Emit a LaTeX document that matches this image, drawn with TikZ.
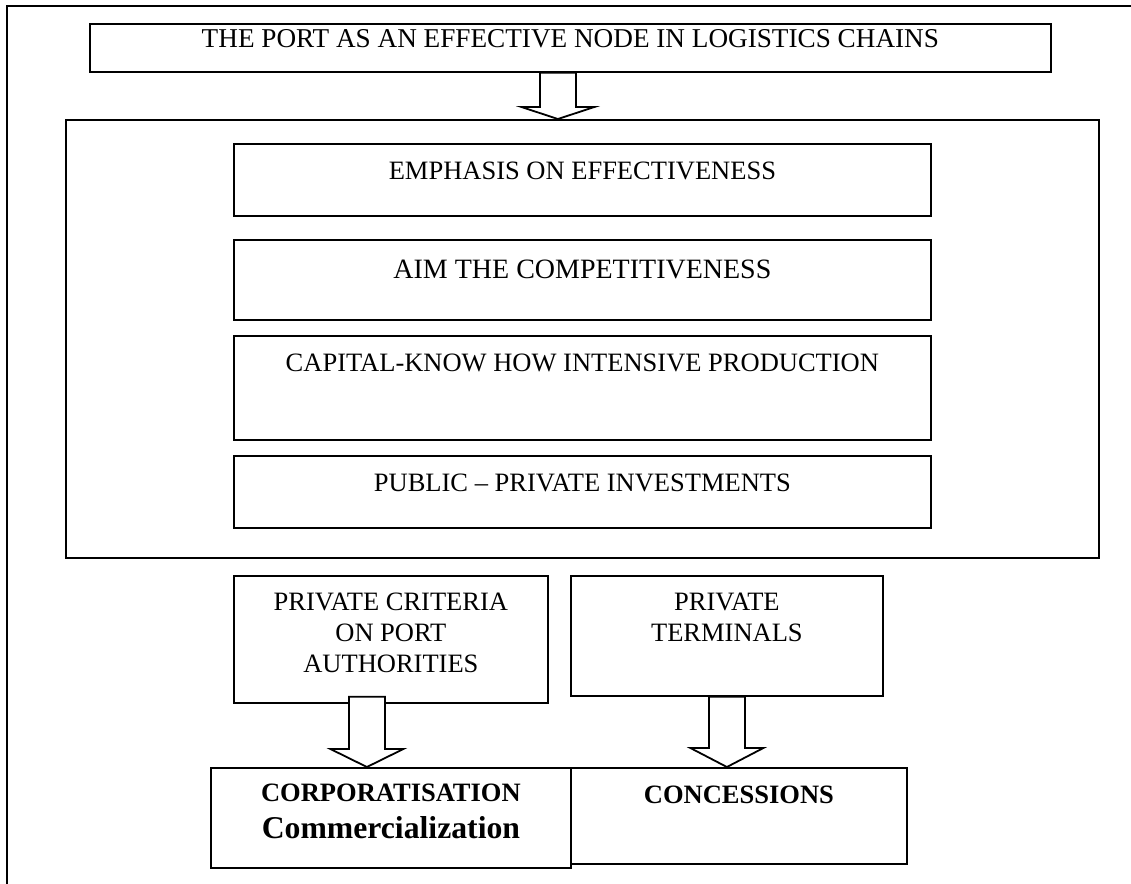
\documentclass[tikz,border=0pt]{standalone}
\usepackage{fontspec}
\setmainfont{Liberation Serif}
\usetikzlibrary{calc}

\newcommand{\blockarr}[3]{%
  \draw[fill=white, line join=miter]
    ($(#1)+(-18,0)$) -- ($(#2)+(-18,-#3)$) -- ($(#2)+(-36.5,-#3)$) -- (#2)
    -- ($(#2)+(36.5,-#3)$) -- ($(#2)+(18,-#3)$) -- ($(#1)+(18,0)$) -- cycle;}

\begin{document}
\begin{tikzpicture}[x=0.5pt, y=-0.5pt, line width=0.9pt,
  box/.style={draw, rectangle, inner sep=0pt, anchor=north west, align=center},
  lbl/.style={font=\fontsize{13.25}{15.5}\selectfont}
]
\useasboundingbox (0,0) rectangle (1131,884);

\draw (1131,6) -- (7,6) -- (7,884);

\node[box, font=\fontsize{13.6}{15.5}\selectfont, minimum width=480.5pt, text height=12pt, text depth=12pt] (port) at (89,23)
  {THE PORT AS AN EFFECTIVE NODE IN LOGISTICS CHAINS};

\node[box, minimum width=516.5pt, minimum height=219pt] (frame) at (65,119) {};

\node[box, lbl, minimum width=348.5pt, text height=18pt, text depth=18pt] (emph) at (233,143)
  {EMPHASIS ON EFFECTIVENESS};
\node[box, font=\fontsize{14}{16}\selectfont, minimum width=348.5pt, text height=19.5pt, text depth=20.5pt] (aim) at (233,239)
  {AIM THE COMPETITIVENESS};
\node[box, lbl, minimum width=348.5pt, text height=18pt, text depth=34pt] (capital) at (233,335)
  {CAPITAL-KNOW HOW INTENSIVE PRODUCTION};
\node[box, lbl, minimum width=348.5pt, text height=18pt, text depth=18pt] (invest) at (233,455)
  {PUBLIC -- PRIVATE INVESTMENTS};

\node[box, lbl, minimum width=157pt, text height=48.5pt, text depth=15pt] (criteria) at (233,575)
  {PRIVATE CRITERIA\\ON PORT\\AUTHORITIES};
\node[box, lbl, minimum width=156pt, text height=33pt, text depth=27pt] (terminals) at (570,575)
  {PRIVATE\\TERMINALS};

\node[box, font=\fontsize{13.25}{17.5}\selectfont\bfseries, minimum width=168pt, text height=18pt, text depth=30pt] (conc) at (570,767)
  {CONCESSIONS};
\node[box, font=\fontsize{13.25}{17.5}\selectfont\bfseries, minimum width=180pt, text height=35.5pt, text depth=14.5pt] (corp) at (210,767)
  {CORPORATISATION\\[1pt]{\fontsize{15.85}{17.5}\selectfont Commercialization}};

\coordinate (a0) at ([xshift=-6.25pt]port.south);
\blockarr{a0}{a0 |- frame.north}{12}
\coordinate (a1) at ([xshift=-12pt, yshift=3.5pt]criteria.south);
\blockarr{a1}{a1 |- corp.north}{18}
\coordinate (a2) at (terminals.south);
\blockarr{a2}{a2 |- conc.north}{19}
\end{tikzpicture}
\end{document}
